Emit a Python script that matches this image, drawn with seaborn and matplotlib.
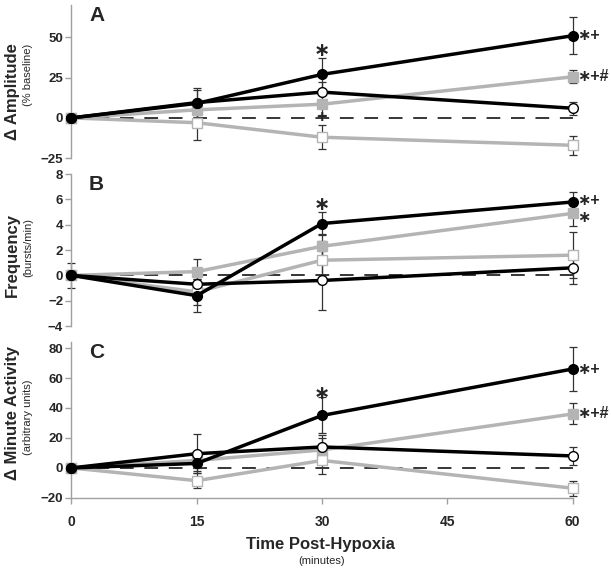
import numpy as np
import matplotlib
matplotlib.use("Agg")
import matplotlib.pyplot as plt
import seaborn as sns

sns.set_style("white")
plt.rcParams['font.family'] = ['Liberation Sans', 'DejaVu Sans']

# time points (minutes post-hypoxia)
time = [0, 15, 30, 60]
xticks = [0, 15, 30, 45, 60]

# panel A - amplitude (% baseline)
amp_black = [0, 9, 27, 51]
amp_black_err = [0, 9.5, 10, 11.5]
amp_open = [0, 9.5, 16, 6]
amp_open_err = [0, 8, 6, 4]
amp_gray = [0, 5, 8.5, 25.5]
amp_gray_err = [0, 5, 7, 4]
amp_graysq = [0, -3, -12, -17]
amp_graysq_err = [0, 11, 7.5, 6]

# panel B - frequency (bursts/min)
frq_black = [0, -1.6, 4.1, 5.8]
frq_black_err = [0, 1.3, 0.9, 0.8]
frq_open = [0, -0.7, -0.4, 0.6]
frq_open_err = [1, 0.8, 2.3, 1.3]
frq_gray = [0, 0.3, 2.3, 4.9]
frq_gray_err = [0, 1.0, 1.0, 1.0]
frq_graysq = [0, -1.3, 1.2, 1.6]
frq_graysq_err = [0, 1.0, 1.5, 1.8]

# panel C - minute activity (arbitrary units)
act_black = [0, 3, 35, 66]
act_black_err = [0, 5, 12, 14.5]
act_open = [0, 9.5, 14, 8]
act_open_err = [0, 13, 8, 6]
act_gray = [0, 5, 12, 36]
act_gray_err = [0, 5, 8, 7]
act_graysq = [0, -8.5, 5, -13.5]
act_graysq_err = [0, 5, 9, 5]

GRAY = '#b4b4b4'
SPINE = '#a0a0a0'
STAR = '\u2217'

# (color, marker, face, edge) for the 4 groups, gray drawn first
styles = [
    (GRAY, 's', 'white', GRAY),
    (GRAY, 's', GRAY, GRAY),
    ('black', 'o', 'white', 'black'),
    ('black', 'o', 'black', 'black'),
]

panels = [
    dict(rect=[0.117, 0.723, 0.820, 0.268], ylim=(-25, 70), yticks=[-25, 0, 25, 50], letter='A',
         series=[(amp_graysq, amp_graysq_err), (amp_gray, amp_gray_err),
                 (amp_open, amp_open_err), (amp_black, amp_black_err)],
         notes=[(60, 51, STAR + '+', 0), (60, 25.5, STAR + '+#', 0)], star=41, plus=True),
    dict(rect=[0.117, 0.429, 0.820, 0.266], ylim=(-4, 8), yticks=[-4, -2, 0, 2, 4, 6, 8], letter='B',
         series=[(frq_graysq, frq_graysq_err), (frq_gray, frq_gray_err),
                 (frq_open, frq_open_err), (frq_black, frq_black_err)],
         notes=[(60, 5.8, STAR + '+', 1), (60, 4.8, STAR, -2)], star=5.5, plus=False),
    dict(rect=[0.117, 0.128, 0.820, 0.273], ylim=(-20, 84), yticks=[-20, 0, 20, 40, 60, 80], letter='C',
         series=[(act_graysq, act_graysq_err), (act_gray, act_gray_err),
                 (act_open, act_open_err), (act_black, act_black_err)],
         notes=[(60, 66, STAR + '+', 0), (60, 36, STAR + '+#', 0)], star=49, plus=False),
]

fig = plt.figure(figsize=(6.11, 5.71), dpi=100)

for i, p in enumerate(panels):
    ax = fig.add_axes(p['rect'])
    ax.axhline(0, color='black', lw=1.1, ls=(0, (9, 7)), zorder=1)
    for (vals, err), (col, mk, fc, ec) in zip(p['series'], styles):
        t = np.array(time)
        e = np.array(err)
        m = e > 0
        ax.errorbar(t[m], np.array(vals)[m], yerr=e[m], fmt='none', ecolor='#333333',
                    elinewidth=0.9, capsize=3, capthick=0.9, zorder=2, clip_on=False)
        sns.lineplot(x=time, y=vals, ax=ax, color=col, lw=2.5, marker=mk, markersize=7,
                     markerfacecolor=fc, markeredgecolor=ec, markeredgewidth=1.0,
                     clip_on=False, zorder=3)
    ax.set_xlim(0, 60)
    ax.set_ylim(*p['ylim'])
    ax.set_yticks(p['yticks'])
    for lab in ax.get_yticklabels():
        lab.set_fontweight('bold')
    ax.tick_params(axis='y', direction='out', length=4, width=1, color=SPINE,
                   labelsize=9.5, pad=2, left=True)
    for s in ['top', 'right']:
        ax.spines[s].set_visible(False)
    ax.spines['left'].set_color(SPINE)
    ax.spines['left'].set_linewidth(1.0)
    if i < 2:
        ax.spines['bottom'].set_visible(False)
        ax.set_xticks([])
    else:
        ax.spines['bottom'].set_color(SPINE)
        ax.spines['bottom'].set_linewidth(1.0)
        ax.set_xticks(xticks)
        ax.set_xticklabels([str(x) for x in xticks], fontweight='bold')
        ax.tick_params(axis='x', direction='out', length=4, width=1, color=SPINE,
                       labelsize=10, pad=8, bottom=True)
    ax.set_xlabel('')
    ax.set_ylabel('')
    ax.text(0.035, 0.93, p['letter'], transform=ax.transAxes, fontsize=15,
            fontweight='bold', va='center', ha='left')
    for x, y, txt, dy in p['notes']:
        ax.annotate(txt, (x, y), xytext=(3, dy), textcoords='offset points',
                    fontsize=11.5, fontweight='bold', va='center', ha='left',
                    annotation_clip=False)
    ax.text(30, p['star'], STAR, fontsize=14, fontweight='bold', ha='center', va='center')
    if p['plus']:
        ax.text(30, 0, '+', fontsize=13, fontweight='bold', ha='center', va='center', zorder=5)

# y labels
fig.text(0.02, 0.839, 'Δ Amplitude', rotation=90, fontsize=12, fontweight='bold', ha='center', va='center')
fig.text(0.046, 0.869, '(% baseline)', rotation=90, fontsize=8, ha='center', va='center')
fig.text(0.02, 0.553, 'Frequency', rotation=90, fontsize=12, fontweight='bold', ha='center', va='center')
fig.text(0.046, 0.566, '(bursts/min)', rotation=90, fontsize=8, ha='center', va='center')
fig.text(0.02, 0.277, 'Δ Minute Activity', rotation=90, fontsize=12, fontweight='bold', ha='center', va='center')
fig.text(0.046, 0.27, '(arbitrary units)', rotation=90, fontsize=8, ha='center', va='center')

fig.text(0.524, 0.046, 'Time Post-Hypoxia', fontsize=12, fontweight='bold', ha='center', va='center')
fig.text(0.527, 0.0175, '(minutes)', fontsize=8, ha='center', va='center')

fig.savefig('out.png', dpi=100)
